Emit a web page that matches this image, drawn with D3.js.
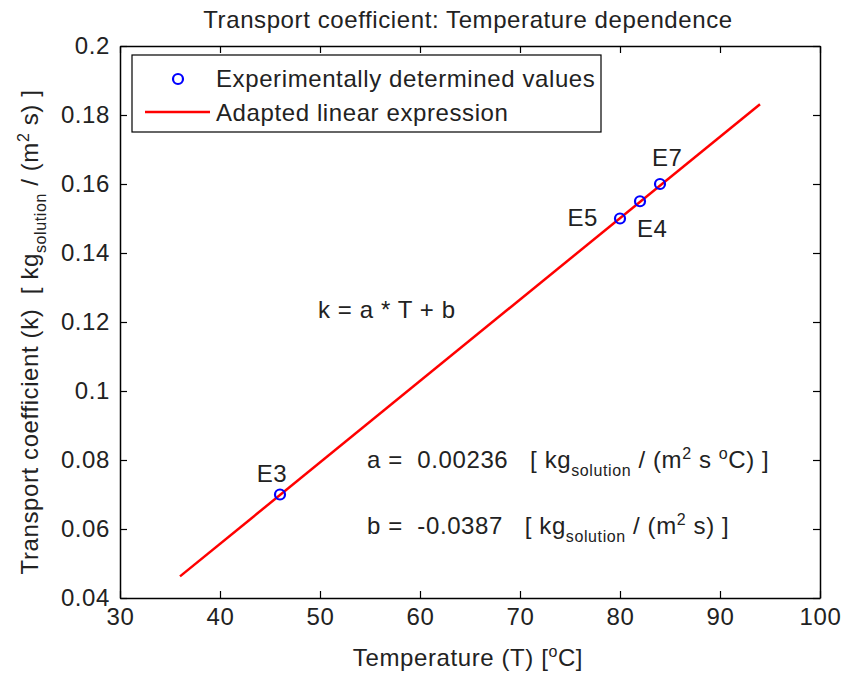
<!doctype html>
<html>
<head>
<meta charset="utf-8">
<style>
  body { margin: 0; background: #fff; }
  svg text { font-family: "Liberation Sans", Arial, Helvetica, sans-serif; fill: #222; letter-spacing: 0.6px; }
</style>
</head>
<body>
<div id="vis"></div>
<script src="https://d3js.org/d3.v7.min.js"></script>
<script>
// measured points
var names = ['E3', 'E5', 'E4', 'E7'];
var temps = [46, 80, 82, 84];
var coeffs = [0.07, 0.15, 0.155, 0.16];
// fitted line k = a*T + b
var slope = 0.00236, intercept = -0.0387;
var fitRange = [36, 94];
var xTicks = [30, 40, 50, 60, 70, 80, 90, 100];
var yTicks = [0.04, 0.06, 0.08, 0.1, 0.12, 0.14, 0.16, 0.18, 0.2];

var W = 843, H = 675,
    mLeft = 120, mRight = 820, mTop = 46, mBottom = 598,
    fs = '24px', fsSmall = '16px';

var svg = d3.select('#vis').append('svg').attr('width', W).attr('height', H);

var x = d3.scaleLinear().domain([30, 100]).range([mLeft, mRight]),
    y = d3.scaleLinear().domain([0.04, 0.2]).range([mBottom, mTop]);

var fmt = function(d){ return String(+d.toFixed(2)); };

// box + inward ticks on all sides
svg.append('g').attr('transform', 'translate(0,' + mBottom + ')')
  .call(d3.axisBottom(x).tickValues(xTicks).tickSizeInner(-7).tickSizeOuter(0).tickPadding(10))
  .call(function(g){ g.selectAll('text').style('font-size', fs); });
svg.append('g').attr('transform', 'translate(0,' + mTop + ')')
  .call(d3.axisTop(x).tickValues(xTicks).tickSizeInner(-7).tickSizeOuter(0).tickFormat(''));
svg.append('g').attr('transform', 'translate(' + mLeft + ',0)')
  .call(d3.axisLeft(y).tickValues(yTicks).tickSizeInner(-7).tickSizeOuter(0).tickPadding(10).tickFormat(fmt))
  .call(function(g){ g.selectAll('text').style('font-size', fs); });
svg.append('g').attr('transform', 'translate(' + mRight + ',0)')
  .call(d3.axisRight(y).tickValues(yTicks).tickSizeInner(-7).tickSizeOuter(0).tickFormat(''));
svg.selectAll('.domain').attr('stroke', '#000').attr('stroke-width', 1.5);
svg.selectAll('.tick line').attr('stroke', '#000').attr('stroke-width', 1.2);
svg.selectAll('.tick text').attr('fill', '#222').style('font-family', '"Liberation Sans", Arial, sans-serif');

// fitted line
var line = d3.line().x(function(d){ return x(d); }).y(function(d){ return y(slope * d + intercept); });
svg.append('path').datum(fitRange).attr('d', line)
  .attr('stroke', '#ff0000').attr('stroke-width', 2.5).attr('fill', 'none');

// points
var pts = names.map(function(n, i){ return {name: n, t: temps[i], k: coeffs[i]}; });
svg.selectAll('circle.pt').data(pts).enter().append('circle')
  .attr('cx', function(d){ return x(d.t); }).attr('cy', function(d){ return y(d.k); })
  .attr('r', 5).attr('fill', 'none').attr('stroke', '#0000ff').attr('stroke-width', 2.2);

// point labels
var labelOffsets = {E3: [-8, -13, 'middle'], E5: [-22, 7, 'end'], E4: [-3, 36, 'start'], E7: [-8, -18, 'start']};
svg.selectAll('text.pl').data(pts).enter().append('text')
  .attr('x', function(d){ return x(d.t) + labelOffsets[d.name][0]; })
  .attr('y', function(d){ return y(d.k) + labelOffsets[d.name][1]; })
  .attr('text-anchor', function(d){ return labelOffsets[d.name][2]; })
  .style('font-size', fs).text(function(d){ return d.name; });

// title and labels
svg.append('text').attr('x', 468).attr('y', 28).attr('text-anchor', 'middle')
  .style('font-size', fs).text('Transport coefficient: Temperature dependence');

var xl = svg.append('text').attr('x', 468).attr('y', 666).attr('text-anchor', 'middle').style('font-size', fs);
xl.append('tspan').text('Temperature (T) [');
xl.append('tspan').attr('dy', -9).style('font-size', fsSmall).text('o');
xl.append('tspan').attr('dy', 9).text('C]');

var yl = svg.append('text').attr('transform', 'translate(38,' + 332 + ') rotate(-90)')
  .attr('text-anchor', 'middle').attr('xml:space', 'preserve').style('font-size', fs);
yl.append('tspan').text('Transport coefficient (k)  [ kg');
yl.append('tspan').attr('dy', 8).style('font-size', fsSmall).text('solution');
yl.append('tspan').attr('dy', -8).text(' / (m');
yl.append('tspan').attr('dy', -9).style('font-size', fsSmall).text('2');
yl.append('tspan').attr('dy', 9).text(' s) ]');

// annotations
svg.append('text').attr('x', 318).attr('y', 318).style('font-size', fs).text('k = a * T + b');

var ta = svg.append('text').attr('x', 367).attr('y', 468).style('font-size', fs).attr('xml:space', 'preserve');
ta.append('tspan').text('a =  0.00236   [ kg');
ta.append('tspan').attr('dy', 8).style('font-size', fsSmall).text('solution');
ta.append('tspan').attr('dy', -8).text(' / (m');
ta.append('tspan').attr('dy', -9).style('font-size', fsSmall).text('2');
ta.append('tspan').attr('dy', 9).text(' s ');
ta.append('tspan').attr('dy', -9).style('font-size', fsSmall).text('o');
ta.append('tspan').attr('dy', 9).text('C) ]');

var tb = svg.append('text').attr('x', 367).attr('y', 534).style('font-size', fs).attr('xml:space', 'preserve');
tb.append('tspan').text('b =  -0.0387   [ kg');
tb.append('tspan').attr('dy', 8).style('font-size', fsSmall).text('solution');
tb.append('tspan').attr('dy', -8).text(' / (m');
tb.append('tspan').attr('dy', -9).style('font-size', fsSmall).text('2');
tb.append('tspan').attr('dy', 9).text(' s) ]');

// legend
var lg = svg.append('g');
lg.append('rect').attr('x', 132).attr('y', 55).attr('width', 469).attr('height', 77)
  .attr('fill', '#fff').attr('stroke', '#000').attr('stroke-width', 1.2);
lg.append('circle').attr('cx', 178).attr('cy', 79).attr('r', 5)
  .attr('fill', 'none').attr('stroke', '#0000ff').attr('stroke-width', 2.2);
lg.append('line').attr('x1', 145).attr('x2', 210).attr('y1', 112).attr('y2', 112)
  .attr('stroke', '#ff0000').attr('stroke-width', 2.5);
lg.append('text').attr('x', 216).attr('y', 87).style('font-size', fs).text('Experimentally determined values');
lg.append('text').attr('x', 216).attr('y', 121).style('font-size', fs).text('Adapted linear expression');
</script>
</body>
</html>
